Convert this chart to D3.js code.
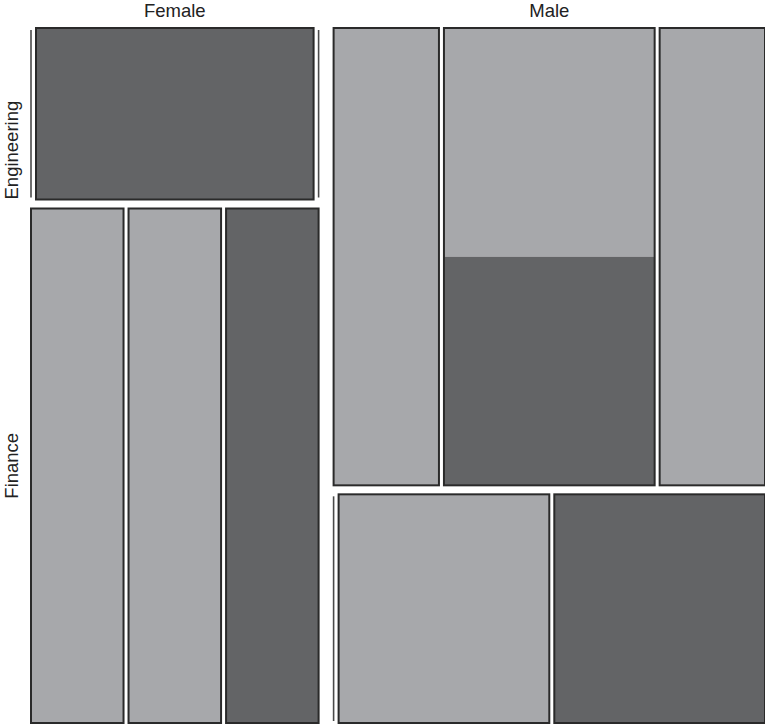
<!DOCTYPE html>
<html>
<head>
<meta charset="utf-8">
<script src="https://cdn.jsdelivr.net/npm/d3@7"></script>
<style>
  body { margin: 0; background: #fff; }
  text { font-family: "Liberation Sans", Arial, sans-serif; font-size: 18.5px; fill: #222; }
</style>
</head>
<body>
<script>
let genders = ["Female", "Male"];
let depts = ["Engineering", "Finance"];
let groups = ["A", "B", "C"];
let outcomes = ["Yes", "No"];

// counts per group: [Yes, No]
let femaleEngineering = [[0, 0], [0, 1], [0, 0]];
let femaleFinance = [[1, 0], [1, 0], [0, 1]];
let maleEngineering = [[1, 0], [1, 1], [1, 0]];
let maleFinance = [[0, 0], [1, 0], [0, 1]];

let tabla = [
  [femaleEngineering, femaleFinance],
  [maleEngineering, maleFinance],
];

let colores = d3.scaleOrdinal().domain(outcomes).range(["#a7a8ab", "#636466"]);

// reparte un intervalo [a, b] en trozos proporcionales con huecos
function partir(a, b, pesos, hueco) {
  let total = d3.sum(pesos);
  let s = d3.scaleLinear().domain([0, total]).range([a, b - hueco * (pesos.length - 1)]);
  let acc = 0;
  return pesos.map(function (p, i) {
    let x0 = s(acc) + hueco * i;
    acc += p;
    return [x0, s(acc) + hueco * i];
  });
}

function graficar() {
  let w = 765;
  let h = 725;
  let svg = d3.select("body").append("svg").attr("width", w).attr("height", h);

  let sumaGrupo = (g) => d3.sum(g, (c) => d3.sum(c));

  let xs = partir(31, 765, tabla.map((gen) => d3.sum(gen, sumaGrupo)), 15);

  tabla.forEach(function (gen, gi) {
    let ys = partir(28, 723, gen.map(sumaGrupo), 9);

    svg.append("text")
      .attr("x", (xs[gi][0] + xs[gi][1]) / 2)
      .attr("y", 17)
      .attr("text-anchor", "middle")
      .text(genders[gi]);

    gen.forEach(function (dep, di) {
      if (gi == 0) {
        // etiqueta de fila (solo en la columna izquierda)
        let yl = di == 0 ? ys[di][1] : (ys[di][0] + ys[di][1]) / 2;
        svg.append("text")
          .attr("transform", "translate(18," + yl + ") rotate(-90)")
          .attr("text-anchor", di == 0 ? "start" : "middle")
          .text(depts[di]);
      }

      let gx = partir(xs[gi][0], xs[gi][1], dep.map((c) => d3.sum(c)), 5);

      dep.forEach(function (celda, ci) {
        let [x0, x1] = gx[ci];
        let [y0, y1] = ys[di];
        if (d3.sum(celda) == 0) {
          svg.append("line")
            .attr("x1", x0).attr("x2", x0)
            .attr("y1", y0 + 2).attr("y2", y1 - 2)
            .attr("stroke", "#4a4a4a")
            .attr("stroke-width", 1.6);
          return;
        }
        let partes = partir(y0, y1, celda, 0);
        svg.selectAll(null)
          .data(celda)
          .enter()
          .append("rect")
          .attr("x", x0)
          .attr("width", x1 - x0)
          .attr("y", (d, i) => partes[i][0])
          .attr("height", (d, i) => partes[i][1] - partes[i][0])
          .attr("fill", (d, i) => colores(outcomes[i]));

        svg.append("rect")
          .attr("x", x0).attr("y", y0)
          .attr("width", x1 - x0).attr("height", y1 - y0)
          .attr("fill", "none")
          .attr("stroke", "#2a2a2a")
          .attr("stroke-width", 2);
      });
    });
  });
}

graficar();
</script>
</body>
</html>
